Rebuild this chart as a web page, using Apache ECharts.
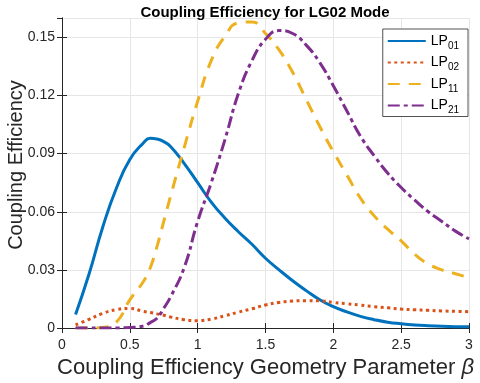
<!DOCTYPE html>
<html>
<head>
<meta charset="utf-8">
<script src="https://cdn.jsdelivr.net/npm/echarts@6/dist/echarts.min.js"></script>
<style>
  html, body { margin: 0; padding: 0; background: #fff; }
  #chart { width: 480px; height: 383px; }
</style>
</head>
<body>
<div id="chart"></div>
<script>
// beta values (x) and coupling efficiency per mode
const beta = [0.1, 0.2, 0.3, 0.4, 0.5, 0.6, 0.65, 0.7, 0.75, 0.8, 0.9, 1.0,
              1.1, 1.2, 1.3, 1.4, 1.5, 1.6, 1.7, 1.8, 1.9, 2.0,
              2.1, 2.2, 2.3, 2.4, 2.5, 2.6, 2.7, 2.8, 2.9, 3.0];

const lp01 = [0.007, 0.028, 0.052, 0.072, 0.087, 0.0955, 0.0979, 0.0976, 0.0962, 0.0937, 0.085, 0.075,
              0.065, 0.0568, 0.0497, 0.0432, 0.036, 0.030, 0.0244, 0.0193, 0.0146, 0.011,
              0.0083, 0.006, 0.0043, 0.003, 0.0022, 0.0016, 0.0012, 0.0009, 0.0007, 0.0006];

const lp02 = [0.0016, 0.0045, 0.0075, 0.0095, 0.0101, 0.0086, 0.008, 0.0073, 0.0066, 0.0057, 0.0043, 0.0038,
              0.0046, 0.0063, 0.0082, 0.0099, 0.0119, 0.0132, 0.0139, 0.0141, 0.014, 0.0132,
              0.0125, 0.0118, 0.011, 0.0104, 0.0098, 0.0094, 0.0091, 0.0088, 0.0086, 0.0084];

const lp11 = [0, 0, 0.0003, 0.003, 0.0145, 0.024, 0.031, 0.042, 0.055, 0.068, 0.093, 0.117,
              0.138, 0.1505, 0.1575, 0.158, 0.152, 0.1435, 0.132, 0.118, 0.104, 0.091,
              0.079, 0.067, 0.058, 0.051, 0.045, 0.038, 0.033, 0.030, 0.028, 0.026];

const lp21 = [0, 0, 0, 0, 0.0003, 0.001, 0.0028, 0.005, 0.0102, 0.016, 0.031, 0.055,
              0.075, 0.097, 0.121, 0.138, 0.149, 0.1535, 0.152, 0.146, 0.137, 0.125,
              0.112, 0.099, 0.089, 0.080, 0.0725, 0.066, 0.060, 0.055, 0.050, 0.046];

const modeNames = ['LP01', 'LP02', 'LP11', 'LP21'];
const xTicks = [0, 3, 0.5];
const yTicks = [0, 0.16, 0.03];

const chart = echarts.init(document.getElementById('chart'));
const font = 'Liberation Sans, Arial, Helvetica, sans-serif';
const axisColor = '#262626';

const pairs = (ys) => beta.map((b, i) => [b, ys[i]]);

const mkSeries = (name, ys, color, type) => ({
    name: name,
    type: 'line',
    data: pairs(ys),
    smooth: 0.5,
    symbol: 'none',
    lineStyle: { color: color, width: 3, type: type, cap: 'butt' },
    itemStyle: { color: color }
});

const boxAxis = {
    show: true,
    axisLine: { show: true, lineStyle: { color: axisColor, width: 1 } },
    axisTick: { show: true, inside: true, length: 5, lineStyle: { color: axisColor } },
    axisLabel: { show: false },
    splitLine: { show: false }
};

const option = {
    animation: false,
    backgroundColor: '#fff',
    title: {
        text: 'Coupling Efficiency for LG02 Mode',
        left: 260, top: 0, textAlign: 'center',
        textStyle: { fontFamily: font, fontSize: 15, fontWeight: 'bold', color: '#000' }
    },
    grid: { left: 62, right: 11, top: 18, bottom: 55, outerBoundsMode: 'none' },
    legend: {
        data: modeNames,
        orient: 'vertical',
        right: 12, top: 29,
        itemWidth: 38, itemHeight: 10,
        itemGap: 1.5, itemTextGap: 3,
        padding: [2, 9, 1, 4],
        backgroundColor: '#fff',
        borderColor: axisColor, borderWidth: 0.8,
        itemStyle: { opacity: 0 },
        formatter: (n) => '{a|LP}{s|' + n.slice(2) + '}',
        textStyle: {
            color: '#000', fontFamily: font,
            rich: {
                a: { fontSize: 14, fontFamily: font, color: '#000', lineHeight: 18 },
                s: { fontSize: 10, fontFamily: font, color: '#000', padding: [10, 0, 0, 0], lineHeight: 18 }
            }
        }
    },
    xAxis: [{
        type: 'value', min: xTicks[0], max: xTicks[1], interval: xTicks[2],
        name: 'Coupling Efficiency Geometry Parameter {b|β}',
        nameLocation: 'middle', nameGap: 29, nameMoveOverlap: false,
        nameTextStyle: {
            fontFamily: font, fontSize: 22, color: axisColor,
            rich: { b: { fontFamily: font, fontSize: 22, fontStyle: 'italic', color: axisColor } }
        },
        axisLine: { lineStyle: { color: axisColor } },
        axisTick: { inside: true, length: 5, lineStyle: { color: axisColor } },
        axisLabel: { fontFamily: font, fontSize: 14, color: axisColor, margin: 10 },
        splitLine: { show: true, lineStyle: { color: '#e6e6e6', width: 1 } }
    }, Object.assign({ type: 'value', position: 'top', min: xTicks[0], max: xTicks[1], interval: xTicks[2] }, boxAxis)],
    yAxis: [{
        type: 'value', min: yTicks[0], max: yTicks[1], interval: yTicks[2],
        name: 'Coupling Efficiency',
        nameLocation: 'middle', nameGap: 36, nameMoveOverlap: false,
        nameTextStyle: { fontFamily: font, fontSize: 20, color: axisColor, padding: [0, 0, 0, 16] },
        axisLine: { show: true, lineStyle: { color: axisColor } },
        axisTick: { show: true, inside: true, length: 5, lineStyle: { color: axisColor } },
        axisLabel: { fontFamily: font, fontSize: 14, color: axisColor, margin: 7, showMaxLabel: false },
        splitLine: { show: true, lineStyle: { color: '#e6e6e6', width: 1 } }
    }, Object.assign({ type: 'value', position: 'right', min: yTicks[0], max: yTicks[1], interval: yTicks[2] }, boxAxis)],
    series: [
        mkSeries(modeNames[0], lp01, '#0072BD', 'solid'),
        mkSeries(modeNames[1], lp02, '#D95319', [3, 3.5]),
        mkSeries(modeNames[2], lp11, '#EDB120', [12, 9]),
        mkSeries(modeNames[3], lp21, '#7E2F8E', [12, 4, 4, 4])
    ]
};

chart.setOption(option);
</script>
</body>
</html>
